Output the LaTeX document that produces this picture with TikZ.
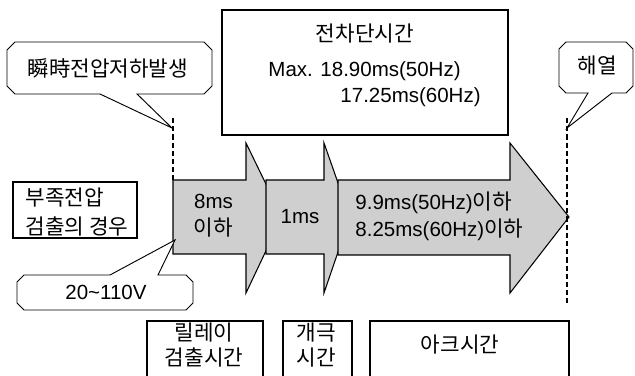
\documentclass[tikz,border=0pt]{standalone}
\usepackage{fontspec}
\setmainfont{Liberation Sans}
\newfontfamily\kr{Noto Sans CJK KR}[Scale=1.04]

\begin{document}
\begin{tikzpicture}[x=0.03cm,y=-0.03cm,line width=0.8pt,
    txt/.style={inner sep=0pt,font=\fontsize{17.5}{23}\selectfont},
    box/.style={draw,line width=0.9pt,inner sep=0pt},
    bubble/.style={draw,fill=white,line width=0.8pt,line join=miter},
    band/.style={draw,fill=black!19,line width=0.9pt,line join=miter},
    guide/.style={dashed,dash pattern=on 4.5pt off 2.5pt,line width=0.9pt}]
    \useasboundingbox (0,0) rectangle (635,376);

    % undervoltage case
    \node[box,minimum width=3.72cm,minimum height=1.68cm] (lowv) at (75,210) {};
    \node[txt,align=left,anchor=west,font=\fontsize{17.5}{24}\selectfont] (lowvtxt) at (25,212) {{\kr 부족전압}\\{\kr 검출의 경우}};

    % total breaking time
    \node[box,minimum width=8.58cm,minimum height=3.75cm] (total) at (365,72.5) {};
    \node[txt] (title) at (365,34) {\kr 전차단시간};
    \node[txt,anchor=west] (max50) at (268,71) {Max. 18.90ms(50Hz)};
    \node[txt,anchor=west] (max60) at (340,97) {17.25ms(60Hz)};

    % time bands
    \draw[band] (173,180) -- (246,180) -- (246,143) -- (282,217) -- (246,293) -- (246,254) -- (173,254) -- cycle;
    \draw[band] (266,180) -- (324,180) -- (324,143) -- (350,217) -- (324,293) -- (324,254) -- (266,254) -- cycle;
    \draw[band] (338,180) -- (510,180) -- (510,143) -- (569,217) -- (510,293) -- (510,255) -- (338,255) -- cycle;
    \node[txt,align=center] (t8) at (213.5,216) {8ms\\{\kr 이하}};
    \node[txt] (t1) at (300,217) {1ms};
    \node[txt,align=left,anchor=west] (tarc) at (355,216) {9.9ms(50Hz){\kr 이하}\\8.25ms(60Hz){\kr 이하}};

    % event lines
    \coordinate (sagpt) at (173,118);
    \coordinate (resetpt) at (567,118);
    \draw[guide] (sagpt) -- (173,180);
    \draw[guide] (resetpt) -- (567,303);

    % callouts
    \draw[bubble] (15,42) -- (204,42) -- (212,50) -- (212,86) -- (204,94) -- (137,94) -- (172,128) -- (100,94) -- (15,94) -- (7,86) -- (7,50) -- cycle;
    \node[txt] (sag) at (108,68) {\kr 瞬時전압저하발생};
    \draw[bubble] (566,42) -- (626,42) -- (633,49) -- (633,86) -- (626,93) -- (612,93) -- (567,128) -- (588,93) -- (566,93) -- (559,86) -- (559,49) -- cycle;
    \node[txt] (reset) at (597,66) {\kr 해열};
    \draw[bubble] (24,275) -- (110,275) -- (175,240) -- (158,275) -- (186,275) -- (193,282) -- (193,303) -- (186,310) -- (24,310) -- (17,303) -- (17,282) -- cycle;
    \node[txt] (volt) at (106,292) {20\textasciitilde 110V};

    % time labels
    \draw[line width=0.9pt] (147,379) |- (263,321) -- (263,379);
    \draw[line width=0.9pt] (283,379) |- (352,321) -- (352,379);
    \draw[line width=0.9pt] (370,379) |- (569,321) -- (569,379);
    \node[txt,align=center,font=\fontsize{17.5}{22}\selectfont] (relay) at (204,345) {{\kr 릴레이}\\{\kr 검출시간}};
    \node[txt,align=center,font=\fontsize{17.5}{22}\selectfont] (open) at (316,345) {{\kr 개극}\\{\kr 시간}};
    \node[txt] (arc) at (460,345) {\kr 아크시간};
\end{tikzpicture}
\end{document}
